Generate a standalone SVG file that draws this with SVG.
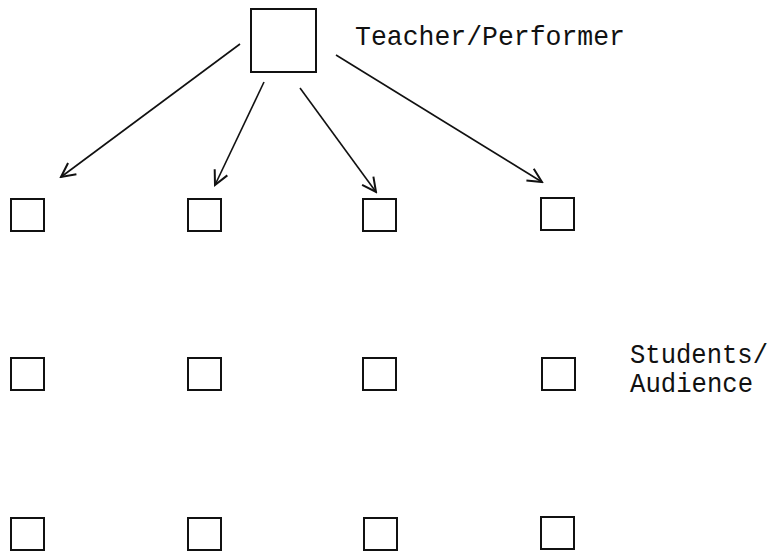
<svg xmlns="http://www.w3.org/2000/svg" width="780" height="552" viewBox="0 0 780 552">
<style>
.box{fill:#fff;stroke:#111;stroke-width:2}
.lbl{font-family:"Liberation Mono","Courier New",monospace;font-size:28px;fill:#111}
.con{stroke:#111;stroke-width:1.6;fill:none}
</style>
<defs>
<marker id="ah" viewBox="0 0 20 20" refX="18" refY="10" markerWidth="20" markerHeight="20" markerUnits="userSpaceOnUse" orient="auto">
<path d="M4,3 L18,10 L4,17" fill="none" stroke="#111" stroke-width="2"/>
</marker>
</defs>
<rect width="780" height="552" fill="#fff"/>
<g id="teacher">
<rect class="box" x="251" y="9" width="65" height="63"/>
<text class="lbl" x="355" y="45" textLength="270" lengthAdjust="spacingAndGlyphs">Teacher/Performer</text>
</g>
<g id="connectors">
<line class="con" x1="240" y1="44" x2="61" y2="177" marker-end="url(#ah)"/>
<line class="con" x1="264" y1="82" x2="215" y2="185" marker-end="url(#ah)"/>
<line class="con" x1="300" y1="88" x2="376" y2="192" marker-end="url(#ah)"/>
<line class="con" x1="336" y1="55" x2="542" y2="182" marker-end="url(#ah)"/>
</g>
<g id="s11"><rect class="box" x="11" y="199" width="33" height="32"/></g>
<g id="s12"><rect class="box" x="188" y="199" width="33" height="32"/></g>
<g id="s13"><rect class="box" x="363" y="199" width="33" height="32"/></g>
<g id="s14"><rect class="box" x="541" y="198" width="33" height="32"/></g>
<g id="s21"><rect class="box" x="11" y="358" width="33" height="32"/></g>
<g id="s22"><rect class="box" x="188" y="358" width="33" height="32"/></g>
<g id="s23"><rect class="box" x="363" y="358" width="33" height="32"/></g>
<g id="s24"><rect class="box" x="542" y="358" width="33" height="32"/></g>
<g id="s31"><rect class="box" x="11" y="518" width="33" height="32"/></g>
<g id="s32"><rect class="box" x="188" y="518" width="33" height="32"/></g>
<g id="s33"><rect class="box" x="364" y="518" width="33" height="32"/></g>
<g id="s34"><rect class="box" x="541" y="517" width="33" height="32"/></g>
<g id="students-label">
<text class="lbl" x="630" y="363" textLength="138" lengthAdjust="spacingAndGlyphs">Students/</text>
<text class="lbl" x="630" y="392" textLength="123" lengthAdjust="spacingAndGlyphs">Audience</text>
</g>
</svg>
